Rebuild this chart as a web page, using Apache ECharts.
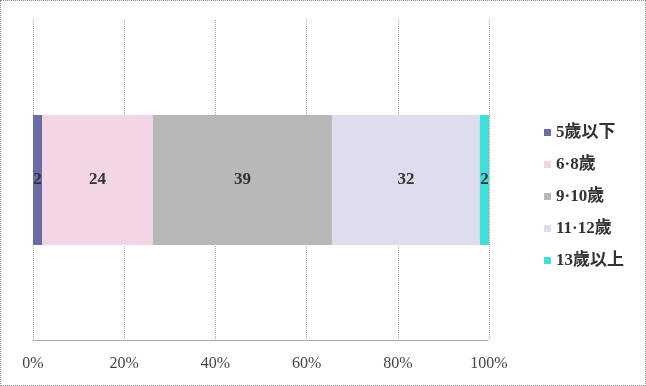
<!DOCTYPE html>
<html><head><meta charset="utf-8">
<script src="https://cdn.jsdelivr.net/npm/echarts@6/dist/echarts.min.js"></script>
<style>
html,body{margin:0;padding:0;background:#fff;}
#c{width:644px;height:384px;border:1px dotted #8a8a8a;}
</style></head>
<body><div id="c"></div>
<script>
const categories = ['5歲以下','6·8歲','9·10歲','11·12歲','13歲以上'];
const values = [2, 24, 39, 32, 2];
const colors = ['#6b6ba8','#f3d6e6','#b8b8b8','#dedcef','#3fe0dc'];
const tickLabels = ['0%','20%','40%','60%','80%','100%'];

const total = values.reduce((a,b)=>a+b,0);
const font = "'Liberation Serif','Noto Sans CJK TC',serif";
const chart = echarts.init(document.getElementById('c'));
chart.setOption({
  animation:false,
  grid:{left:32,right:156,top:19,bottom:45,containLabel:false},
  xAxis:{type:'value',min:0,max:100,interval:20,
    axisLine:{show:true,lineStyle:{color:'#9a9a9a',type:'dotted'}},
    axisTick:{show:false},
    splitLine:{show:true,lineStyle:{color:'#a8a8a8',type:'dotted'}},
    axisLabel:{color:'#444',fontFamily:font,fontSize:16,margin:16,
      formatter:(v)=>tickLabels[Math.round(v/20)]}},
  yAxis:{type:'category',data:[''],axisLine:{show:false},axisTick:{show:false},axisLabel:{show:false}},
  legend:{orient:'vertical',left:538,top:118,itemGap:15,itemWidth:7,itemHeight:7,
    icon:'rect',textStyle:{fontFamily:font,fontSize:17,color:'#333',fontWeight:'bold'},
    data:categories},
  series: categories.map((name,i)=>({
    name,type:'bar',stack:'s',barWidth:130,
    itemStyle:{color:colors[i]},
    label:{show:true,position:'inside',fontFamily:font,fontSize:17,color:'#333',fontWeight:'bold',
      formatter:()=>String(values[i])},
    data:[values[i]/total*100]
  }))
});
</script></body></html>
